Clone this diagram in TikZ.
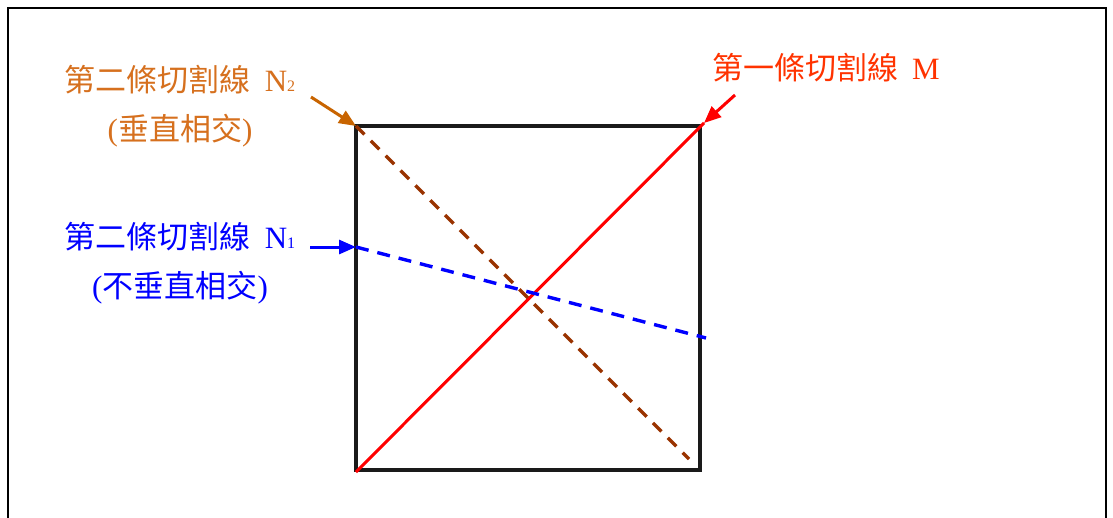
\documentclass[tikz,border=0pt]{standalone}
\usepackage{fontspec}
\setmainfont{Liberation Serif}
\newfontfamily\cjk{Noto Sans CJK TC}[Scale=1.0]
\usetikzlibrary{arrows.meta}
\definecolor{txtorange}{RGB}{214,112,30}
\definecolor{arrorange}{RGB}{200,100,0}
\definecolor{dashbrown}{RGB}{153,51,0}
\definecolor{txtred}{RGB}{255,51,0}
\definecolor{sqblack}{RGB}{26,26,26}
\tikzset{
  lbl/.style={font=\fontsize{31}{49}\selectfont, align=center, inner sep=0pt},
  pointer/.style={line width=3pt, -{Triangle[length=17pt,width=14pt]}},
  cutline/.style={line width=3pt},
  dashcut/.style={line width=3.4pt, dash pattern=on 12pt off 9pt},
}
\newcommand{\smalldig}[1]{{\fontsize{16}{16}\selectfont #1}}
\begin{document}
\begin{tikzpicture}[x=1pt,y=-1pt]
\useasboundingbox (0,0) rectangle (1113,517);
% outer frame
\coordinate (fbl) at (8,530);
\coordinate (ftl) at (8,8);
\coordinate (ftr) at (1106,8);
\coordinate (fbr) at (1106,530);
\draw[line width=2.2pt] (fbl) -- (ftl) -- (ftr) -- (fbr);
% square
\coordinate (sqtl) at (356,126);
\coordinate (sqbr) at (700,470);
\coordinate (sqbl) at (356,470);
\coordinate (sqtr) at (700,126);
\draw[line width=4pt, sqblack] (sqtl) rectangle (sqbr);
% cut lines
\coordinate (mstart) at (356,472);
\coordinate (mend) at (704,123);
\draw[cutline, red] (mstart) -- (mend);
\coordinate (n2end) at (689,459);
\draw[dashcut, dashbrown] (sqtl) -- (n2end);
\coordinate (n1start) at (356,247);
\coordinate (n1end) at (706,338);
\draw[dashcut, blue, dash pattern=on 13pt off 9pt] (n1start) -- (n1end);
% labels
\node[lbl, text=txtorange] (n2lbl) at (180,106) {{\cjk 第二條切割線}\hspace{14pt}N\smalldig{2}\\({\cjk 垂直相交})};
\node[lbl, text=blue] (n1lbl) at (180,263) {{\cjk 第二條切割線}\hspace{14pt}N\smalldig{1}\\({\cjk 不垂直相交})};
\node[lbl, text=txtred] (mlbl) at (826,68) {{\cjk 第一條切割線}\hspace{14pt}M};
% pointers
\coordinate (p2tail) at (311,97);
\coordinate (p1tail) at (310,247);
\coordinate (pmtail) at (735,95);
\draw[pointer, arrorange] (p2tail) -- (sqtl);
\draw[pointer, blue] (p1tail) -- (n1start);
\draw[pointer, red] (pmtail) -- (mend);
\end{tikzpicture}
\end{document}
